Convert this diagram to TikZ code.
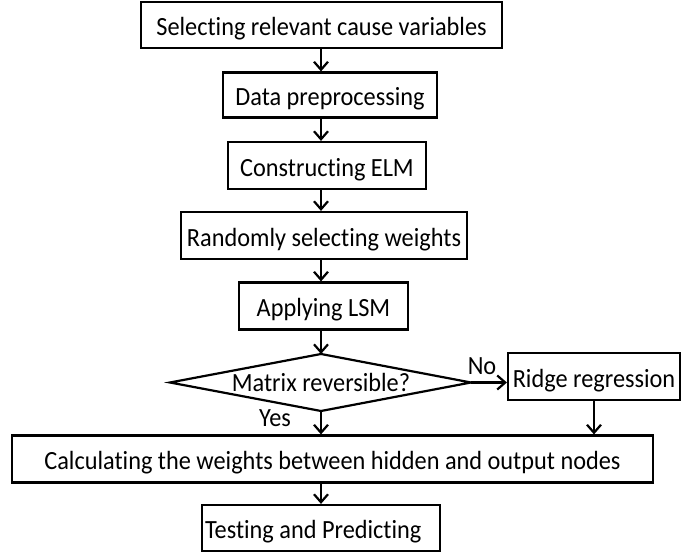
\documentclass[tikz,border=0pt]{standalone}
\usepackage{fontspec}
\setmainfont{Carlito}[Ligatures={NoCommon,NoRare}]
\usetikzlibrary{arrows.meta}
\newcommand\vstretch[1]{\scalebox{1}[1.08]{#1}}
\tikzset{
  txt/.style={font=\fontsize{24.3}{28}\selectfont},
  stepbox/.style={draw, line width=2.2pt, inner sep=0pt, text height=22pt, text depth=0pt, txt},
  lbl/.style={inner sep=0pt, anchor=base, txt},
  edge/.style={line width=2.2pt, line join=miter},
  arr/.style={line width=2.2pt, -{Straight Barb[length=8pt,width=14pt]}}
}
\begin{document}
\begin{tikzpicture}[x=1pt,y=-1pt]
\useasboundingbox (0,0) rectangle (681,553);
\node[stepbox, minimum width=361pt, minimum height=46pt] (b1) at (321.5,25) {\vstretch{Selecting relevant cause variables}};
\node[stepbox, minimum width=214pt, minimum height=45pt] (b2) at (330,95) {\vstretch{Data preprocessing}};
\node[stepbox, minimum width=198pt, minimum height=47pt] (b3) at (327,165.5) {\vstretch{Constructing ELM}};
\node[stepbox, minimum width=286pt, minimum height=47pt] (b4) at (324,235.5) {\vstretch{Randomly selecting weights}};
\node[stepbox, minimum width=169pt, minimum height=47pt] (b5) at (323.5,306) {\vstretch{Applying LSM}};
\node[lbl] (dia) at (321,392) {\vstretch{Matrix reversible?}};
\coordinate (diaN) at (321,354);
\coordinate (diaS) at (321,411);
\coordinate (diaW) at (170,382.5);
\coordinate (diaE) at (471,382.5);
\draw[edge] (diaN) -- (diaE) -- (diaS) -- (diaW) -- cycle;
\node[stepbox, minimum width=172pt, minimum height=47pt] (ridge) at (594,376.5) {\vstretch{Ridge regression}};
\node[stepbox, minimum width=641pt, minimum height=47pt] (big) at (332.5,459) {\vstretch{Calculating the weights between hidden and output nodes}};
\node[stepbox, minimum height=46pt, inner xsep=3pt, text width=232pt, align=flush left] (tp) at (321,528) {\vstretch{Testing and Predicting}};
\coordinate (axis) at (321,0);
\node[lbl] (no) at (482,375) {\vstretch{No}};
\node[lbl] (yes) at (275,427) {\vstretch{Yes}};
\draw[arr] (b1.south -| axis) -- (b2.north -| axis);
\draw[arr] (b2.south -| axis) -- (b3.north -| axis);
\draw[arr] (b3.south -| axis) -- (b4.north -| axis);
\draw[arr] (b4.south -| axis) -- (b5.north -| axis);
\draw[arr] (b5.south -| axis) -- (diaN);
\draw[arr] (diaE) -- (ridge.west |- diaE);
\draw[arr] (diaS) -- (big.north -| diaS);
\draw[arr] (ridge.south) -- (big.north -| ridge.south);
\draw[arr] (big.south -| axis) -- (tp.north -| axis);
\end{tikzpicture}
\end{document}
